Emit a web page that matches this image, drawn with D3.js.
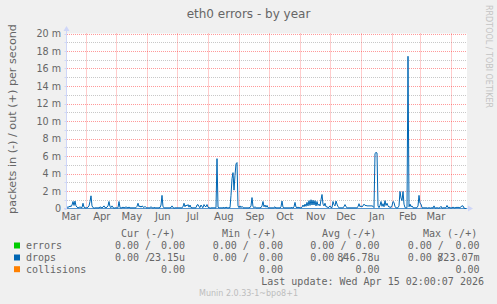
<!DOCTYPE html>
<html>
<head>
<meta charset="utf-8">
<script src="https://cdn.jsdelivr.net/npm/d3@7"></script>
<style>
body { margin: 0; background: #f0f0f0; }
text { font-family: "DejaVu Sans", sans-serif; fill: #666; }
.mono { font-family: "DejaVu Sans Mono", monospace; white-space: pre; font-size: 10px; }
</style>
</head>
<body>
<div id="chart"></div>
<script>
// first daily sample (left edge of the graph), one value per day after that
const startTime = Date.UTC(2025, 2, 12, 16);
const days = 400;

// drops out (+), in milli-packets per second, one per day
const dropsOut = [
  0.1, 0.2, 0.15, 0.3, 0.2, 0.4, 0.8, 0.35, 0.85, 0.3,
  0.15, 0.1, 0.1, 0.2, 0.1, 0.1, 0.6, 0.15, 0.1, 0.05,
  0.1, 0.15, 0.3, 0.8, 1.45, 0.3, 0.1, 0.05, 0.05, 0.1,
  0.05, 0.1, 0.05, 0.2, 0.1, 0.1, 0.15, 0.3, 0.1, 0.1,
  0.15, 0.3, 0.8, 0.2, 0.1, 0.3, 0.1, 0.05, 0.05, 0.1,
  0.05, 0.1, 0.8, 0.1, 0.05, 0.1, 0.15, 0.1, 0.1, 0.2,
  0.1, 0.1, 0.15, 0.1, 0.05, 0.1, 0.05, 0.1, 0.05, 0.1,
  0.25, 0.6, 0.2, 0.3, 0.15, 0.3, 0.2, 0.1, 0.25, 0.1,
  0.05, 0.1, 0.05, 0.1, 0.2, 0.1, 0.05, 0.1, 0.1, 0.05,
  0.1, 0.05, 0.1, 0.1, 0.4, 1.5, 0.2, 0.1, 0.05, 0.1,
  0.05, 0.1, 0.05, 0.1, 0.1, 0.3, 0.1, 0.05, 0.05, 0.1,
  0.05, 0.1, 0.05, 0.1, 0.05, 0.1, 0.2, 0.6, 0.2, 0.4,
  0.3, 0.45, 0.15, 0.4, 0.1, 0.1, 0.05, 0.1, 0.05, 0.1,
  0.4, 0.45, 0.2, 0.1, 0.4, 0.2, 0.1, 0.45, 0.25, 0.2,
  0.45, 0.15, 0.1, 0.05, 0.05, 0.1, 0.05, 0.1, 0.05, 0.1,
  5.7, 0.15, 0.1, 0.05, 0.1, 0.05, 0.1, 0.1, 0.05, 0.15,
  0.1, 0.05, 0.1, 0.1, 1.5, 3.4, 4.1, 2.1, 3.8, 5.1,
  5.25, 0.3, 0.1, 0.3, 0.1, 0.25, 0.1, 0.05, 0.1, 0.05,
  0.1, 0.05, 0.1, 0.1, 0.3, 1.25, 0.2, 0.1, 0.2, 0.1,
  0.05, 0.1, 0.05, 0.1, 0.1, 0.3, 0.8, 0.2, 0.4, 0.15,
  0.35, 0.1, 0.05, 0.1, 0.05, 0.1, 0.05, 0.1, 0.2, 0.05,
  0.1, 0.05, 0.1, 0.05, 0.2, 0.85, 0.15, 0.05, 0.1, 0.05,
  0.1, 0.05, 0.1, 0.05, 0.1, 0.1, 0.05, 0.2, 0.7, 0.15,
  0.1, 0.15, 0.1, 0.1, 0.05, 0.15, 0.4, 0.2, 0.5, 0.25,
  0.7, 0.3, 0.9, 0.35, 1.0, 0.4, 0.95, 0.4, 0.9, 0.3,
  0.8, 0.35, 0.5, 0.3, 1.0, 1.6, 0.5, 0.3, 0.6, 0.2,
  0.2, 0.1, 0.15, 0.3, 0.1, 0.1, 0.8, 0.45, 0.3, 0.85,
  0.5, 0.2, 0.1, 0.05, 0.1, 0.05, 0.1, 0.2, 0.45, 0.2,
  0.1, 0.05, 0.1, 0.05, 0.1, 0.05, 0.1, 0.05, 0.1, 0.05,
  0.1, 0.2, 0.55, 0.2, 0.3, 0.2, 0.3, 0.5, 0.35, 0.35,
  0.3, 0.3, 0.3, 0.3, 0.3, 0.3, 0.25, 0.1, 6.3, 6.4,
  6.35, 0.3, 0.1, 0.35, 0.8, 0.25, 0.55, 0.2, 0.9, 0.35,
  0.6, 0.3, 0.15, 0.2, 0.1, 0.3, 0.8, 0.7, 0.2, 0.1,
  0.05, 0.1, 0.3, 1.95, 1.2, 0.9, 1.95, 0.5, 0.1, 0.05,
  0.1, 17.4, 0.2, 0.5, 0.2, 0.3, 0.1, 0.05, 0.1, 0.05,
  0.1, 0.3, 1.5, 0.6, 0.5, 0.1, 0.05, 0.1, 0.05, 0.1,
  0.05, 0.05, 0.1, 0.05, 0.05, 0.1, 0.05, 0.3, 0.05, 0.05,
  0.1, 0.05, 0.05, 0.1, 0.25, 0.05, 0.05, 0.1, 0.05, 0.1,
  0.35, 0.1, 0.15, 0.1, 0.05, 0.1, 0.15, 0.1, 0.05, 0.15,
  0.1, 0.15, 0.1, 0.1, 0.2, 0.3, 0.3, 0.05, 0, 0
];

const yMajor = [0, 2, 4, 6, 8, 10, 12, 14, 16, 18, 20];
const yMinor = [1, 3, 5, 7, 9, 11, 13, 15, 17, 19];

const legendNames = ["errors", "drops", "collisions"];
const legendColors = ["#00cc00", "#0066b3", "#ff8000"];
const colHeads = ["Cur (-/+)", "Min (-/+)", "Avg (-/+)", "Max (-/+)"];
// [in, out] per column, per row; null = not shown
const legendVals = [
  [["0.00", "0.00"], ["0.00", "0.00"], ["0.00", "0.00"], ["0.00", "0.00"]],
  [["0.00", "23.15u"], ["0.00", "0.00"], ["0.00", "846.78u"], ["0.00", "823.07m"]],
  [[null, "0.00"], [null, "0.00"], [null, "0.00"], [null, "0.00"]]
];

let W = 497, H = 304;
let svg = d3.select("#chart").append("svg")
  .attr("width", W).attr("height", H)
  .style("display", "block");

svg.append("rect").attr("width", W).attr("height", H).attr("fill", "#f0f0f0");

let x = d3.scaleUtc()
  .domain([new Date(startTime), d3.utcDay.offset(new Date(startTime), days)])
  .range([67, 467]);
let y = d3.scaleLinear().domain([0, 20]).range([208.5, 33.5]);

// canvas
svg.append("rect")
  .attr("x", 67).attr("y", 33.5).attr("width", 400).attr("height", 175)
  .attr("fill", "#fff");

// grid
svg.selectAll(".gmin").data(yMinor).enter().append("line")
  .attr("x1", 67).attr("x2", 467)
  .attr("y1", d => Math.round(y(d)) + 0.5).attr("y2", d => Math.round(y(d)) + 0.5)
  .attr("stroke", "#c8c8c8").attr("stroke-dasharray", "1,1");

svg.selectAll(".gmaj").data(yMajor.slice(1)).enter().append("line")
  .attr("x1", 67).attr("x2", 467)
  .attr("y1", d => Math.round(y(d)) + 0.5).attr("y2", d => Math.round(y(d)) + 0.5)
  .attr("stroke", "rgba(255,0,0,0.4)").attr("stroke-dasharray", "1,1");

let months = d3.utcMonth.range(x.domain()[0], x.domain()[1]);
svg.selectAll(".gx").data(months).enter().append("line")
  .attr("x1", d => Math.round(x(d)) + 0.5).attr("x2", d => Math.round(x(d)) + 0.5)
  .attr("y1", 33.5).attr("y2", 208)
  .attr("stroke", "rgba(255,0,0,0.4)").attr("stroke-dasharray", "1,1");

// axes
let axisCol = "#cfd6f8";
svg.append("line").attr("x1", 66.5).attr("x2", 66.5).attr("y1", 29).attr("y2", 209)
  .attr("stroke", axisCol);
svg.append("line").attr("x1", 64).attr("x2", 469).attr("y1", 208.5).attr("y2", 208.5)
  .attr("stroke", axisCol);
svg.append("path").attr("d", "M63.5,31 L66.5,26 L69.5,31 Z").attr("fill", axisCol);
svg.append("path").attr("d", "M468,205.5 L473,208.5 L468,211.5 Z").attr("fill", axisCol);
svg.selectAll(".ty").data(yMajor.concat(yMinor)).enter().append("line")
  .attr("x1", 64.5).attr("x2", 66.5)
  .attr("y1", d => Math.round(y(d)) + 0.5).attr("y2", d => Math.round(y(d)) + 0.5)
  .attr("stroke", axisCol);

// y labels
svg.selectAll(".yl").data(yMajor).enter().append("text")
  .attr("x", 61).attr("y", d => y(d) + 3.5)
  .attr("text-anchor", "end").style("font-size", "9.6px")
  .text(d => d === 0 ? "0" : d + " m");

// month labels, centered in each month
let mid = d => x(new Date(+d + 15.5 * 864e5));
let labelMonths = d3.utcMonth.range(d3.utcMonth.floor(x.domain()[0]), x.domain()[1])
  .filter(d => mid(d) < 460);
svg.selectAll(".xl").data(labelMonths).enter().append("text")
  .attr("x", d => mid(d))
  .attr("y", 219.5)
  .attr("text-anchor", "middle").style("font-size", "10px")
  .text(d => d3.utcFormat("%b")(d));

// data: drops in (-) is zero over the whole range, drops out (+)
let t = i => d3.utcDay.offset(new Date(startTime), i);
svg.append("line")
  .attr("x1", x.range()[0]).attr("x2", x.range()[1])
  .attr("y1", y(0)).attr("y2", y(0))
  .attr("stroke", "#0066b3").attr("stroke-opacity", 0.6);

let line = d3.line().x((d, i) => x(t(i))).y(d => y(d));
svg.append("path").datum(dropsOut)
  .attr("d", line).attr("fill", "none")
  .attr("stroke", "#0066b3").attr("stroke-width", 1);

// title & axis title
svg.append("text").attr("x", 248.5).attr("y", 17.5)
  .attr("text-anchor", "middle").style("font-size", "12px")
  .text("eth0 errors - by year");
svg.append("text").attr("transform", "translate(16,119) rotate(-90)")
  .attr("text-anchor", "middle").style("font-size", "11.2px")
  .text("packets in (-) / out (+) per second");
svg.append("text").attr("transform", "translate(485.5,5) rotate(90)")
  .style("font-size", "8px").style("fill", "#c4c4c4")
  .text("RRDTOOL / TOBI OETIKER");

// legend
let headX = [121, 222, 322, 423];
let negX = [115, 212.7, 310.3, 407.7];
let posEnd = [185, 283, 379.5, 479.5];
let rowY = [249.3, 261.3, 273];

svg.selectAll(".hd").data(colHeads).enter().append("text")
  .attr("class", "mono").attr("x", (d, i) => headX[i]).attr("y", 237)
  .text(d => d);

legendNames.forEach((name, r) => {
  svg.append("rect").attr("x", 14).attr("y", rowY[r] - 6.8)
    .attr("width", 6).attr("height", 6).attr("fill", legendColors[r]);
  svg.append("text").attr("class", "mono").attr("x", 26).attr("y", rowY[r]).text(name);
  legendVals[r].forEach((v, c) => {
    if (v[0] !== null) {
      svg.append("text").attr("class", "mono").attr("x", negX[c]).attr("y", rowY[r])
        .text(v[0] + " /");
    }
    svg.append("text").attr("class", "mono").attr("x", posEnd[c]).attr("y", rowY[r])
      .attr("text-anchor", "end").text(v[1]);
  });
});

svg.append("text").attr("class", "mono").attr("x", 484).attr("y", 285.3)
  .attr("text-anchor", "end").text("Last update: Wed Apr 15 02:00:07 2026");
svg.append("text").attr("x", 248.5).attr("y", 296.3)
  .attr("text-anchor", "middle").style("font-size", "8px").style("fill", "#bdbdbd")
  .text("Munin 2.0.33-1~bpo8+1");
</script>
</body>
</html>
